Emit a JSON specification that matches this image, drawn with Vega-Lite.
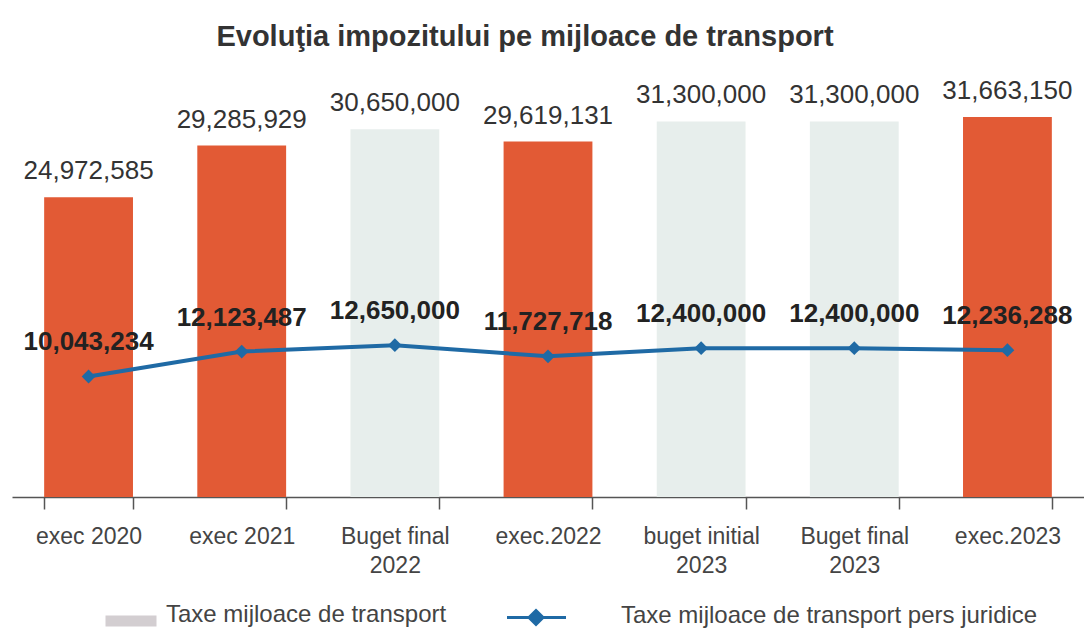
{
  "$schema": "https://vega.github.io/schema/vega-lite/v6.json",
  "autosize": "none",
  "width": 1072,
  "height": 437,
  "padding": {"left": 12, "top": 60, "right": 0, "bottom": 132},
  "background": "white",
  "config": {"view": {"stroke": null}, "font": "Liberation Sans"},
  "title": {"text": "Evoluţia impozitului pe mijloace de transport", "fontSize": 29, "fontWeight": "bold", "color": "#333333", "anchor": "middle", "offset": 8, "dx": -23, "font": "Liberation Sans"},
  "data": {"values": [
    {"cat": "exec 2020", "tip": "executie", "total": 24972585, "juridice": 10043234},
    {"cat": "exec 2021", "tip": "executie", "total": 29285929, "juridice": 12123487},
    {"cat": "Buget final 2022", "tip": "buget", "total": 30650000, "juridice": 12650000},
    {"cat": "exec.2022", "tip": "executie", "total": 29619131, "juridice": 11727718},
    {"cat": "buget initial 2023", "tip": "buget", "total": 31300000, "juridice": 12400000},
    {"cat": "Buget final 2023", "tip": "buget", "total": 31300000, "juridice": 12400000},
    {"cat": "exec.2023", "tip": "executie", "total": 31663150, "juridice": 12236288}
  ]},
  "encoding": {
    "x": {"field": "cat", "type": "nominal", "sort": null, "title": null,
      "scale": {"paddingInner": 0.42, "paddingOuter": 0.21},
      "axis": {"labelAngle": 0, "labelFontSize": 23, "labelColor": "#444444", "labelLineHeight": 29, "labelPadding": 16,
        "labelExpr": "datum.value == 'Buget final 2022' ? ['Buget final', '2022'] : datum.value == 'buget initial 2023' ? ['buget initial', '2023'] : datum.value == 'Buget final 2023' ? ['Buget final', '2023'] : datum.value",
        "tickBand": "extent", "tickSize": 12, "tickColor": "#555555", "tickWidth": 1.5, "domainColor": "#555555", "domainWidth": 1.5, "labelLimit": 200}}
  },
  "layer": [
    {
      "mark": {"type": "bar"},
      "encoding": {
        "y": {"field": "total", "type": "quantitative", "scale": {"domain": [0, 36420000], "nice": false}, "axis": null},
        "color": {"field": "tip", "type": "nominal", "scale": {"domain": ["executie", "buget"], "range": ["#e25a35", "#e7eeec"]}, "legend": null}
      }
    },
    {
      "mark": {"type": "text", "baseline": "alphabetic", "dy": -18, "fontSize": 26, "color": "#333333"},
      "encoding": {
        "y": {"field": "total", "type": "quantitative"},
        "text": {"field": "total", "type": "quantitative", "format": ","}
      }
    },
    {
      "mark": {"type": "line", "strokeWidth": 4, "point": {"shape": "diamond", "size": 190, "filled": true}},
      "encoding": {
        "y": {"field": "juridice", "type": "quantitative"},
        "color": {"datum": "Taxe mijloace de transport pers juridice", "type": "nominal",
          "scale": {"domain": ["Taxe mijloace de transport", "Taxe mijloace de transport pers juridice"], "range": ["#d3ced1", "#1f6aa5"]},
          "legend": {"title": null, "orient": "none", "legendX": 126, "legendY": 543, "direction": "horizontal", "columns": 2,
            "labelFontSize": 24, "labelColor": "#444444", "labelLimit": 700, "labelOffset": 4, "symbolSize": 400, "columnPadding": 54,
            "encode": {"symbols": {"update": {
              "shape": {"signal": "datum.value === 'Taxe mijloace de transport' ? 'M-4.3,0.2H0.5V1H-4.3Z' : 'M-9.8,0.2H-3.9M-6.9,-0.5L-6.2,0.2L-6.9,0.9L-7.6,0.2Z'"},
              "fill": {"signal": "datum.value === 'Taxe mijloace de transport' ? '#d3ced1' : '#1f6aa5'"},
              "stroke": {"signal": "datum.value === 'Taxe mijloace de transport' ? 'transparent' : '#1f6aa5'"},
              "strokeWidth": {"value": 3},
              "opacity": {"value": 1}
            }}}}
        }
      }
    },
    {
      "mark": {"type": "text", "baseline": "alphabetic", "dy": -26, "fontSize": 26, "fontWeight": "bold", "color": "#222222"},
      "encoding": {
        "y": {"field": "juridice", "type": "quantitative"},
        "text": {"field": "juridice", "type": "quantitative", "format": ","}
      }
    }
  ],
  "resolve": {"scale": {"color": "independent"}}
}
